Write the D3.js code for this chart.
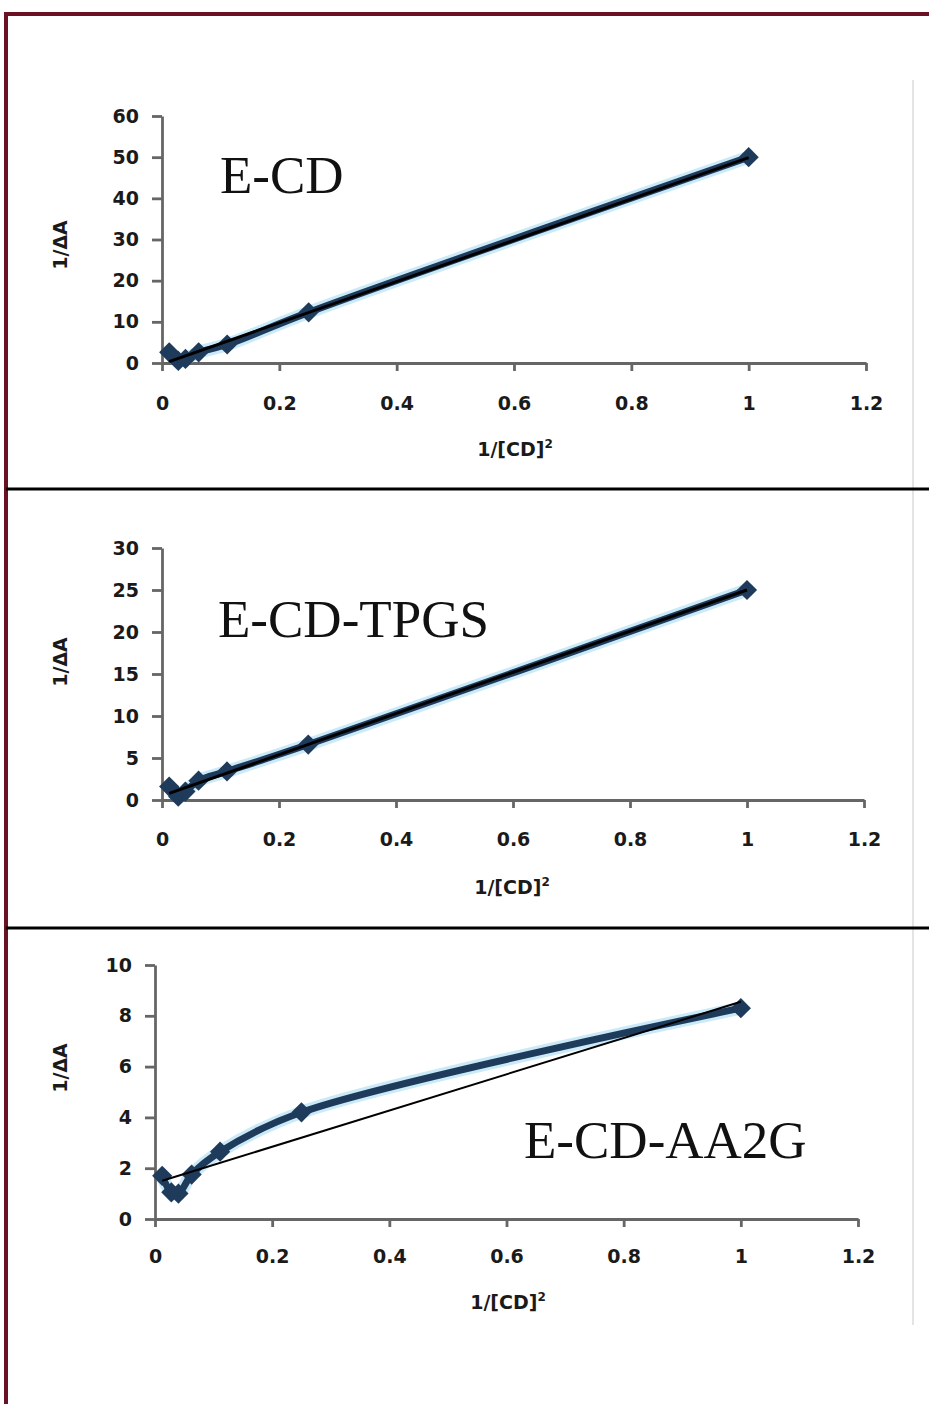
<!DOCTYPE html>
<meta charset="utf-8">
<style>
body { margin: 0; background: #fff; }
svg { display: block; }
.tick text { font: bold 19px "DejaVu Sans", Verdana, sans-serif; fill: #1a1a1a; }
.axis path, .axis line { stroke: #666; stroke-width: 2.8px; }
.ttl { font: bold 19px "DejaVu Sans", Verdana, sans-serif; fill: #1a1a1a; }
.name { font: 53px "Liberation Serif", "Times New Roman", serif; fill: #111; }
</style>
<script src="https://d3js.org/d3.v7.min.js"></script>
<body>
<script>
// data (x = 1/[CD]^2, y = 1/dA)
var xVals = [0.0123, 0.0278, 0.04, 0.0625, 0.1111, 0.25, 1];
var ecdY = [2.6, 0.5, 1.0, 2.6, 4.5, 12.3, 50];
var tpgsY = [1.6, 0.4, 1.0, 2.3, 3.4, 6.6, 25];
var aa2gY = [1.7, 1.05, 1.0, 1.75, 2.65, 4.2, 8.3];
var xTicks = [0, 0.2, 0.4, 0.6, 0.8, 1, 1.2];
var names = ["E-CD", "E-CD-TPGS", "E-CD-AA2G"];
var yMax = [60, 30, 10];
var yStep = [10, 5, 2];

var W = 929, H = 1404;
var svg = d3.select("body").append("svg").attr("width", W).attr("height", H);

// frame
svg.append("line").attr("x1", 4).attr("x2", W).attr("y1", 14).attr("y2", 14)
  .attr("stroke", "#6a1224").attr("stroke-width", 4);
svg.append("line").attr("x1", 6).attr("x2", 6).attr("y1", 12).attr("y2", H)
  .attr("stroke", "#6a1224").attr("stroke-width", 4);
svg.append("line").attr("x1", 913).attr("x2", 913).attr("y1", 80).attr("y2", 1325)
  .attr("stroke", "#e4e4e4").attr("stroke-width", 2);
[489, 928].forEach(function(y) {
  svg.append("line").attr("x1", 6).attr("x2", W).attr("y1", y).attr("y2", y)
    .attr("stroke", "#000").attr("stroke-width", 3);
});

// layout of each panel
var panels = [
  { ys: ecdY,  x0: 162, x1: 866, top: 116, bot: 363, nx: 220, ny: 193, ytY: 245, xtX: 515, xtY: 456, lw: 3, pad: 26 },
  { ys: tpgsY, x0: 162, x1: 864, top: 548, bot: 800, nx: 218, ny: 637, ytY: 662, xtX: 512, xtY: 894, lw: 3, pad: 25 },
  { ys: aa2gY, x0: 155, x1: 858, top: 965, bot: 1219, nx: 524, ny: 1158, ytY: 1068, xtX: 508, xtY: 1309, lw: 2, pad: 23 }
];

function linreg(xs, ys) {
  var mx = d3.mean(xs), my = d3.mean(ys), sxy = 0, sxx = 0;
  xs.forEach(function(x, i) { sxy += (x - mx) * (ys[i] - my); sxx += (x - mx) * (x - mx); });
  var b = sxy / sxx;
  return { b: b, a: my - b * mx };
}

panels.forEach(function(p, k) {
  var x = d3.scaleLinear().domain([0, 1.2]).range([p.x0, p.x1]);
  var y = d3.scaleLinear().domain([0, yMax[k]]).range([p.bot, p.top]);
  var g = svg.append("g");

  g.append("g").attr("class", "axis").attr("transform", "translate(0," + p.bot + ")")
    .call(d3.axisBottom(x).tickValues(xTicks).tickFormat(d3.format("")).tickSize(8).tickSizeOuter(0).tickPadding(p.pad));
  g.append("g").attr("class", "axis").attr("transform", "translate(" + p.x0 + ",0)")
    .call(d3.axisLeft(y).tickValues(d3.range(0, yMax[k] + 0.01, yStep[k])).tickSize(10).tickSizeOuter(0).tickPadding(13));

  var pts = xVals.map(function(v, i) { return [v, p.ys[i]]; });
  var line = d3.line().x(function(d) { return x(d[0]); }).y(function(d) { return y(d[1]); })
    .curve(d3.curveCatmullRom.alpha(0.5));

  // light halo then series line
  g.append("path").attr("d", line(pts)).attr("fill", "none")
    .attr("stroke", "#a6dcf3").attr("stroke-width", 13).attr("stroke-opacity", 0.6).attr("stroke-linejoin", "round");
  g.append("path").attr("d", line(pts)).attr("fill", "none")
    .attr("stroke", "#1f3b5c").attr("stroke-width", 7).attr("stroke-linejoin", "round");

  g.selectAll(".mk").data(pts).enter().append("path").attr("class", "mk")
    .attr("d", d3.symbol().type(d3.symbolDiamond2).size(260))
    .attr("transform", function(d) { return "translate(" + x(d[0]) + "," + y(d[1]) + ")"; })
    .attr("fill", "#1f3b5c");

  // linear trend line
  var r = linreg(xVals, p.ys);
  var xa = d3.min(xVals), xb = d3.max(xVals);
  g.append("line")
    .attr("x1", x(xa)).attr("y1", y(r.a + r.b * xa))
    .attr("x2", x(xb)).attr("y2", y(r.a + r.b * xb))
    .attr("stroke", "#000").attr("stroke-width", p.lw);

  g.append("text").attr("class", "name").attr("x", p.nx).attr("y", p.ny).text(names[k]);

  g.append("text").attr("class", "ttl").attr("text-anchor", "middle")
    .attr("transform", "translate(67," + p.ytY + ") rotate(-90)").text("1/\u0394A");

  var t = g.append("text").attr("class", "ttl").attr("text-anchor", "middle")
    .attr("x", p.xtX).attr("y", p.xtY);
  t.append("tspan").text("1/[CD]");
  t.append("tspan").attr("font-size", "12px").attr("dy", -8).text("2");
});
</script>
</body>
